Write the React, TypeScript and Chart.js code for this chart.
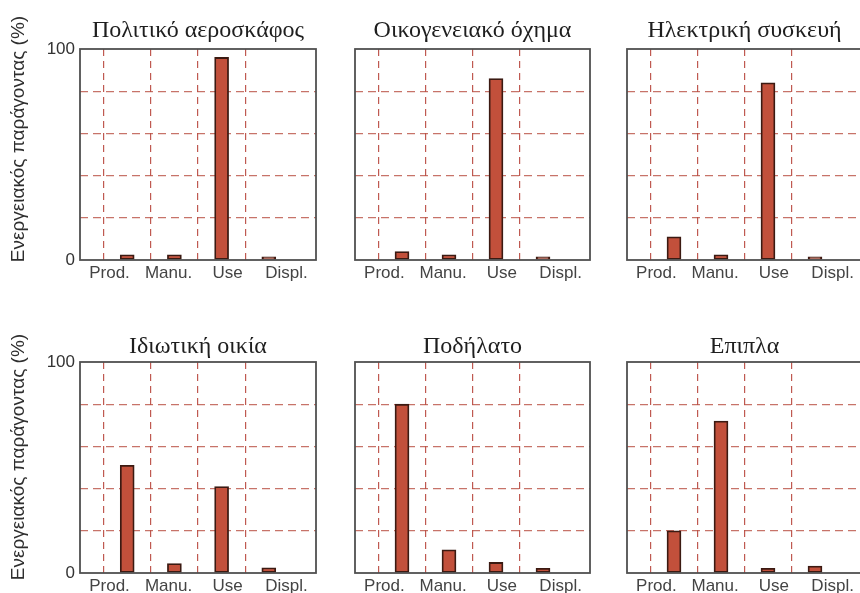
import React, { useEffect, useRef } from 'react';
import { Chart, registerables } from 'chart.js';

Chart.register(...registerables);

// ---------- data ----------
const CATEGORIES = ['Prod.', 'Manu.', 'Use', 'Displ.'];
const PANEL_TITLES = [
  'Πολιτικό αεροσκάφος',
  'Οικογενειακό όχημα',
  'Ηλεκτρική συσκευή',
  'Ιδιωτική οικία',
  'Ποδήλατο',
  'Επιπλα',
];
const AIRCRAFT = [2.5, 2.5, 96, 1.5];
const CAR = [4, 2.5, 86, 1.5];
const APPLIANCE = [11, 2.5, 84, 1.5];
const HOUSE = [51, 4.5, 41, 2.5];
const BICYCLE = [80, 11, 5, 2.2];
const FURNITURE = [20, 72, 2.2, 3.3];
const Y_LABELED_TICKS = [0, 100];
const Y_MIN = 0;
const Y_MAX = 100;
const Y_STEP = 20;
const Y_TITLE = 'Ενεργειακός παράγοντας (%)';

const SERIES = [AIRCRAFT, CAR, APPLIANCE, HOUSE, BICYCLE, FURNITURE];

// ---------- layout ----------
const COLS = [
  { canvasLeft: 0, padLeft: 80, yAxisW: 45, plotW: 236, padRight: 10 },
  { canvasLeft: 325, padLeft: 30, yAxisW: 30, plotW: 235, padRight: 10 },
  { canvasLeft: 597, padLeft: 30, yAxisW: 30, plotW: 235, padRight: 10 },
];
const X_AXIS_H = 30;
const ROWS = [
  { canvasTop: 0, padTop: 49, plotH: 211, padBottom: 33, titleGap: 12, yTitleY: 139 },
  { canvasTop: 300, padTop: 62, plotH: 211, padBottom: 31, titleGap: 9, yTitleY: 157 },
];

const BAR_FILL = '#c2503b';
const BAR_EDGE = '#3b1a12';
const GRID_H = 'rgba(185, 80, 68, 0.8)';
const GRID_V = 'rgba(180, 60, 50, 0.85)';
const FRAME = '#505050';
const TICK_FONT = '"Liberation Sans", Arial, sans-serif';

const decorPlugin = {
  id: 'panelDecor',
  afterDraw(chart: any, _args: any, opts: any) {
    const { ctx, chartArea: a } = chart;
    ctx.save();
    ctx.strokeStyle = FRAME;
    ctx.lineWidth = 1.8;
    ctx.setLineDash([]);
    ctx.strokeRect(a.left, a.top, a.right - a.left, a.bottom - a.top);

    ctx.fillStyle = '#1e1e1e';
    ctx.font = '24px "Liberation Serif", "Times New Roman", serif';
    ctx.textAlign = 'center';
    ctx.textBaseline = 'alphabetic';
    ctx.fillText(opts.title, (a.left + a.right) / 2, a.top - opts.titleGap);

    if (opts.yTitle) {
      ctx.translate(opts.yTitleX, opts.yTitleY);
      ctx.rotate(-Math.PI / 2);
      ctx.font = '19px ' + TICK_FONT;
      ctx.fillStyle = '#2e2e2e';
      ctx.textAlign = 'center';
      ctx.textBaseline = 'middle';
      ctx.fillText(opts.yTitle, 0, 0);
    }
    ctx.restore();
  },
};

function Panel({ index }: { index: number }) {
  const ref = useRef<HTMLCanvasElement | null>(null);
  const col = COLS[index % 3];
  const row = ROWS[Math.floor(index / 3)];
  const width = col.padLeft + col.plotW + col.padRight;
  const height = row.padTop + row.plotH + row.padBottom;
  const firstCol = index % 3 === 0;

  useEffect(() => {
    if (!ref.current) return;
    const values = SERIES[index];
    const chart = new Chart(ref.current, {
      type: 'bar',
      data: {
        labels: ['', ...CATEGORIES, ''],
        datasets: [
          {
            data: [null, ...values, null],
            backgroundColor: BAR_FILL,
            borderColor: BAR_EDGE,
            borderWidth: 1.8,
            borderSkipped: false,
            barThickness: 14,
            xAxisID: 'x',
            yAxisID: 'y',
          } as any,
        ],
      },
      options: {
        responsive: false,
        animation: false,
        events: [],
        layout: {
          padding: {
            left: col.padLeft - col.yAxisW,
            right: col.padRight,
            top: row.padTop,
            bottom: row.padBottom - X_AXIS_H,
          },
        },
        plugins: {
          legend: { display: false },
          title: { display: false },
          tooltip: { enabled: false },
          panelDecor: {
            title: PANEL_TITLES[index],
            titleGap: row.titleGap,
            yTitle: firstCol ? Y_TITLE : '',
            yTitleX: 19,
            yTitleY: row.yTitleY,
          },
        } as any,
        scales: {
          x: {
            type: 'category',
            offset: false,
            position: 'bottom',
            ticks: { display: false },
            grid: {
              drawTicks: false,
              lineWidth: 1.2,
              color: (c: any) => (c.index === 0 || c.index === CATEGORIES.length + 1 ? 'rgba(0,0,0,0)' : GRID_V),
            },
            border: { display: false, dash: [7, 5] },
            afterFit: (s: any) => {
              s.height = 0;
            },
          },
          xl: {
            type: 'category',
            labels: CATEGORIES,
            offset: true,
            position: 'bottom',
            grid: { display: false, drawTicks: false },
            border: { display: false },
            ticks: {
              padding: 3,
              color: '#444444',
              font: { family: TICK_FONT, size: 17 },
              autoSkip: false,
              maxRotation: 0,
            },
            afterFit: (s: any) => {
              s.height = X_AXIS_H;
            },
          },
          y: {
            type: 'linear',
            min: Y_MIN,
            max: Y_MAX,
            ticks: {
              stepSize: Y_STEP,
              padding: 5,
              color: '#333333',
              font: { family: TICK_FONT, size: 17 },
              callback: (v: any) => (firstCol && Y_LABELED_TICKS.includes(Number(v)) ? String(v) : ''),
            },
            grid: {
              drawTicks: false,
              lineWidth: 1.3,
              color: (c: any) =>
                c.tick && (c.tick.value === Y_MIN || c.tick.value === Y_MAX) ? 'rgba(0,0,0,0)' : GRID_H,
            },
            border: { display: false, dash: [8, 5] },
            afterFit: (s: any) => {
              s.width = col.yAxisW;
            },
          },
        },
      } as any,
      plugins: [decorPlugin as any],
    });
    return () => chart.destroy();
  }, [index]);

  return (
    <canvas
      ref={ref}
      width={width}
      height={height}
      style={{
        position: 'absolute',
        left: col.canvasLeft,
        top: row.canvasTop,
        width,
        height,
      }}
    />
  );
}

export default function App() {
  return (
    <div
      style={{
        position: 'fixed',
        left: 0,
        top: 0,
        width: 860,
        height: 593,
        overflow: 'hidden',
        background: '#ffffff',
      }}
    >
      {PANEL_TITLES.map((_, i) => (
        <Panel key={i} index={i} />
      ))}
    </div>
  );
}
